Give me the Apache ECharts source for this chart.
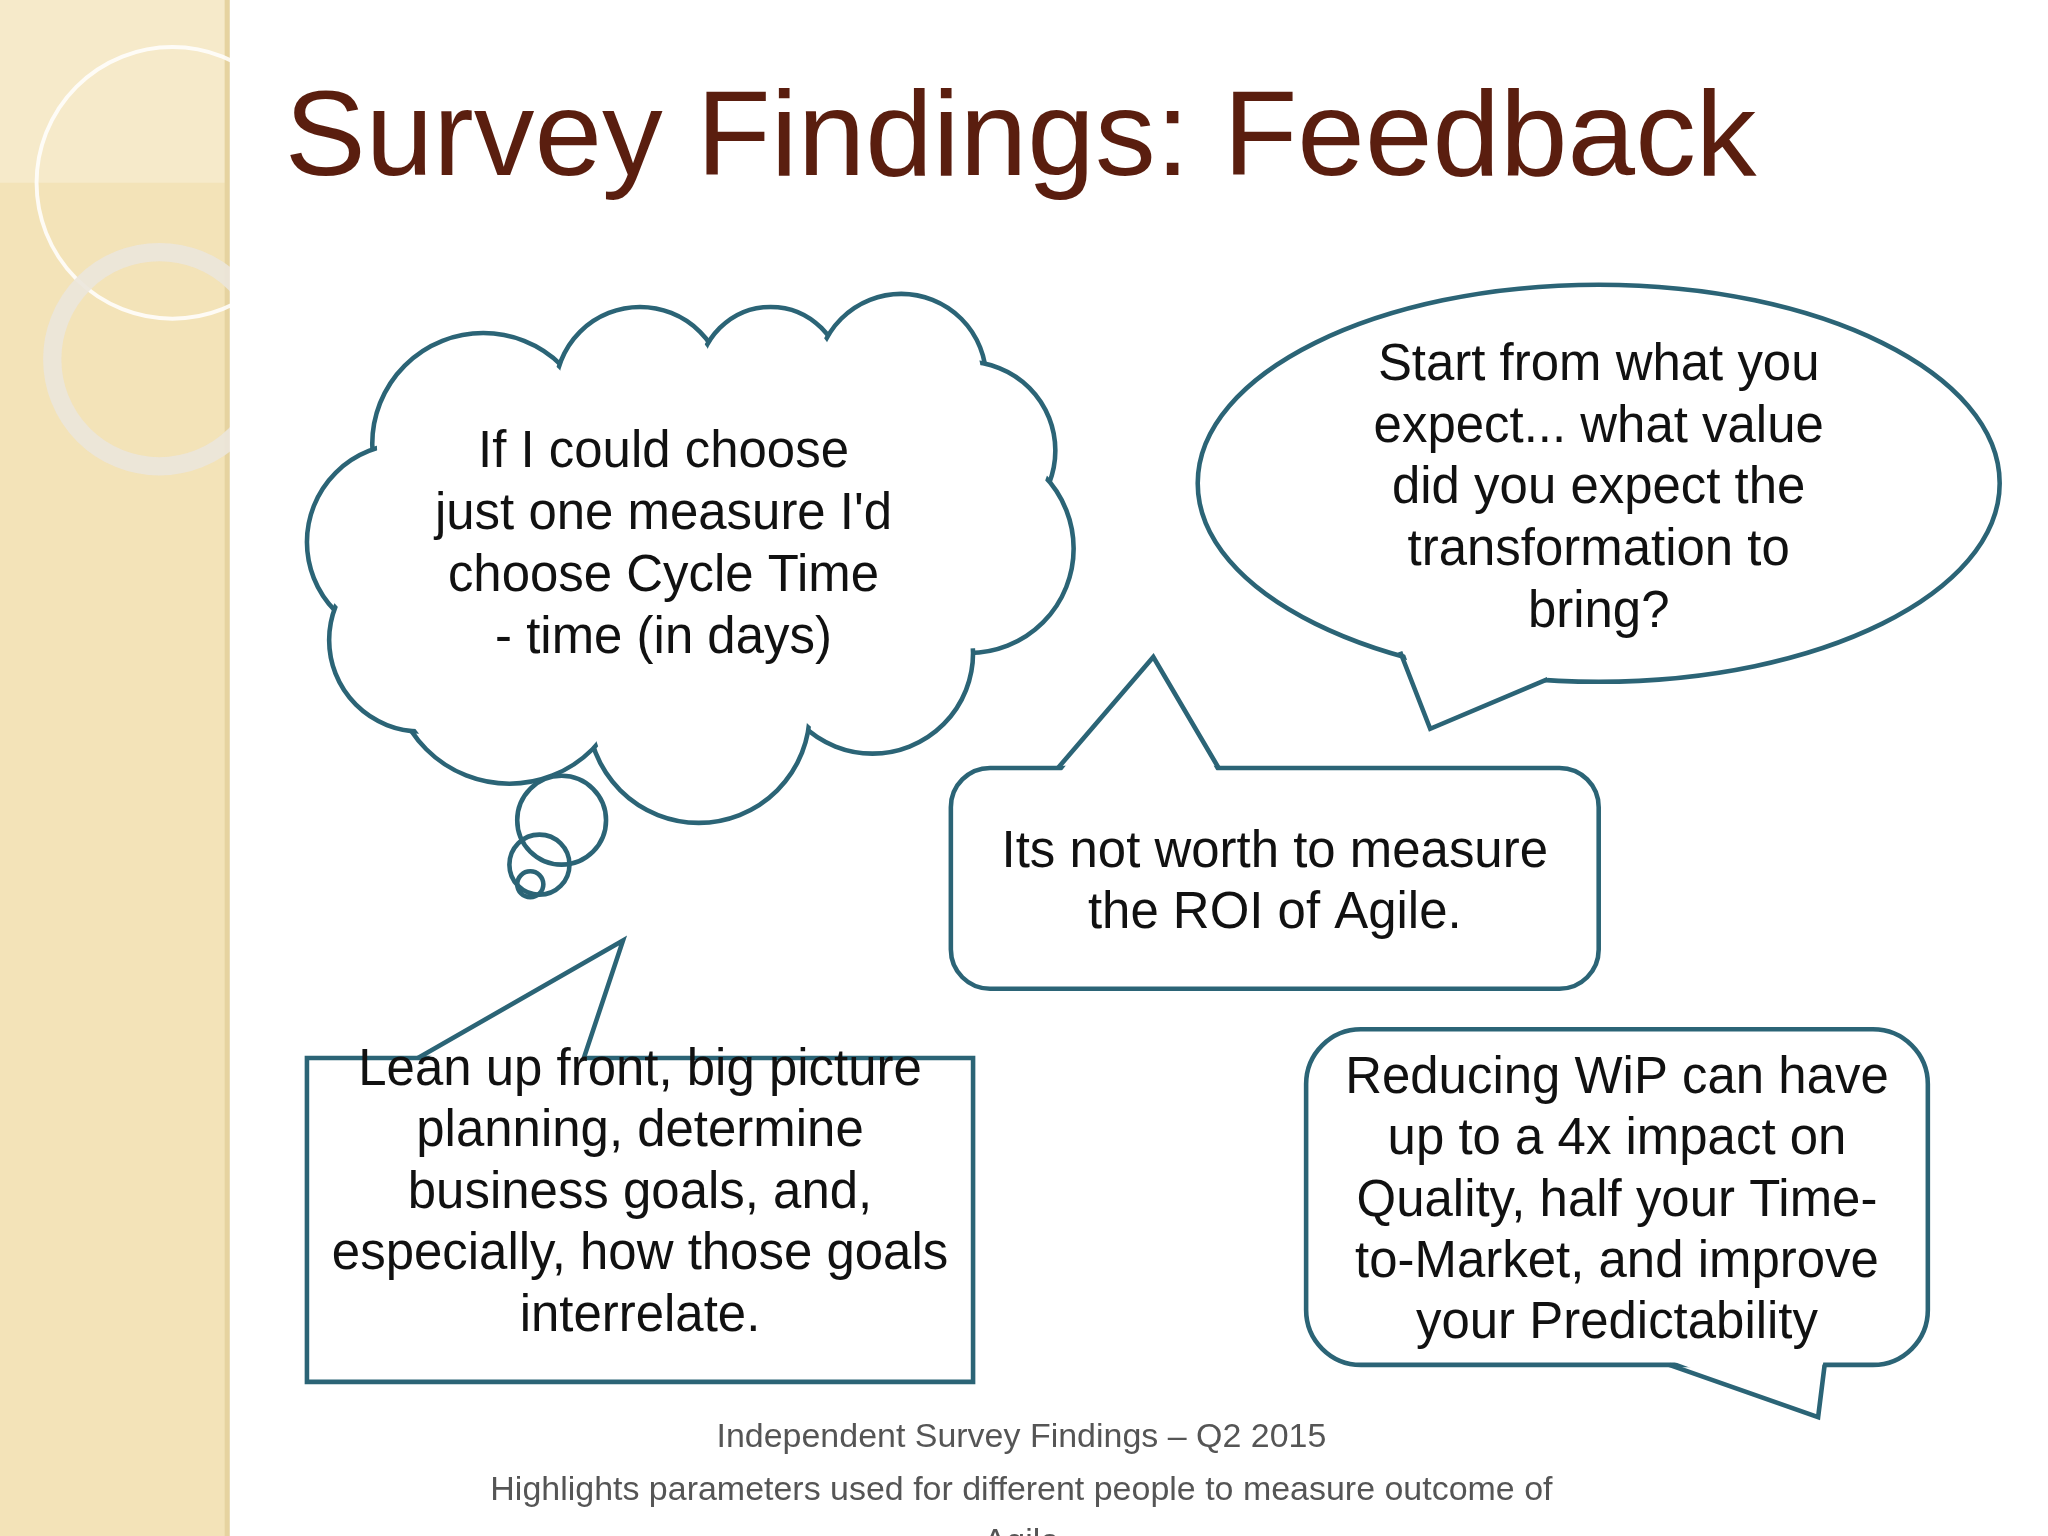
<!DOCTYPE html>
<html>
<head>
<meta charset="utf-8">
<script src="https://cdn.jsdelivr.net/npm/echarts@6/dist/echarts.min.js"></script>
<style>html,body{margin:0;padding:0;background:#fff}#slide{width:2048px;height:1536px}</style>
</head>
<body>
<div id="slide"></div>
<script>
// slide texts
var titleText = 'Survey Findings: Feedback';
var cloudLines = ['If I could choose', "just one measure I'd", 'choose Cycle Time', '- time (in days)'];
var ovalLines = ['Start from what you', 'expect... what value', 'did you expect the', 'transformation to', 'bring?'];
var roiLines = ['Its not worth to measure', 'the ROI of Agile.'];
var leanLines = ['Lean up front, big picture', 'planning, determine', 'business goals, and,', 'especially, how those goals', 'interrelate.'];
var wipLines = ['Reducing WiP can have', 'up to a 4x impact on', 'Quality, half your Time-', 'to-Market, and improve', 'your Predictability'];
var footerLines = ['Independent Survey Findings \u2013 Q2 2015', 'Highlights parameters used for different people to measure outcome of', 'Agile'];

var s = 2048 / 1568;
var stroke = '#2b6476';
var lw = 3.5;
var font = '39px "Liberation Sans", Arial, sans-serif';

function textBlock(lines, cx, y0, step, f, color) {
    return lines.map(function(t, i) {
        return {
            type: 'text',
            style: { text: t, x: cx, y: y0 + i * step, font: f || font, fill: color || '#111',
                textAlign: 'center', textVerticalAlign: 'middle' }
        };
    });
}

var bumps = [[370,340,85],[490,300,65],[590,290,55],[690,290,65],[740,345,68],[742,420,80],
    [668,500,77],[535,545,85],[390,510,90],[310,415,75],[322,490,70]];
var cloud = [];
bumps.forEach(function(b) {
    cloud.push({ type: 'circle', shape: { cx: b[0], cy: b[1], r: b[2] }, style: { fill: '#fff', stroke: stroke, lineWidth: lw } });
});
bumps.forEach(function(b) {
    cloud.push({ type: 'circle', shape: { cx: b[0], cy: b[1], r: b[2] - lw }, style: { fill: '#fff' } });
});
cloud.push({ type: 'circle', shape: { cx: 510, cy: 420, r: 150 }, style: { fill: '#fff' } });
cloud.push({ type: 'circle', shape: { cx: 650, cy: 400, r: 100 }, style: { fill: '#fff' } });
cloud.push({ type: 'circle', shape: { cx: 460, cy: 390, r: 100 }, style: { fill: '#fff' } });
[[430,628,34],[413,662,23],[406,677,10]].forEach(function(b) {
    cloud.push({ type: 'circle', shape: { cx: b[0], cy: b[1], r: b[2] }, style: { fill: 'none', stroke: stroke, lineWidth: lw } });
});

var children = [
    { type: 'rect', shape: { x: 0, y: 0, width: 175, height: 1176 }, style: { fill: '#f3e3b8' } },
    { type: 'rect', shape: { x: 0, y: 0, width: 175, height: 140 }, style: { fill: 'rgba(255,255,255,0.25)' } },
    { type: 'rect', shape: { x: 172, y: 0, width: 4, height: 1176 }, style: { fill: '#e6d3a0' } },
    { type: 'circle', shape: { cx: 132, cy: 140, r: 104 }, style: { fill: 'none', stroke: 'rgba(255,255,255,0.85)', lineWidth: 3 } },
    { type: 'circle', shape: { cx: 122, cy: 275, r: 82 }, style: { fill: 'none', stroke: 'rgba(235,230,220,0.9)', lineWidth: 14 } },
    { type: 'rect', shape: { x: 176, y: 0, width: 1400, height: 1176 }, style: { fill: '#fff' } },
    { type: 'text', style: { text: titleText, x: 218, y: 108, font: '93px "Liberation Sans", Arial, sans-serif',
        fill: '#5a1e0f', textVerticalAlign: 'middle', shadowBlur: 4, shadowColor: 'rgba(0,0,0,0.35)', shadowOffsetX: 3, shadowOffsetY: 3 } }
].concat(cloud).concat([
    { type: 'ellipse', shape: { cx: 1224, cy: 370, rx: 307, ry: 152 }, style: { fill: '#fff', stroke: stroke, lineWidth: lw } },
    { type: 'polygon', shape: { points: [[1074,496],[1095,556],[1185,519],[1185,505]] }, style: { fill: '#fff' } },
    { type: 'polyline', shape: { points: [[1072,499],[1095,558],[1185,520]] }, style: { stroke: stroke, lineWidth: lw, fill: 'none' } },
    { type: 'rect', shape: { x: 728, y: 588, width: 496, height: 169, r: 30 }, style: { fill: '#fff', stroke: stroke, lineWidth: lw } },
    { type: 'polygon', shape: { points: [[812,591],[883,505],[932,591]] }, style: { fill: '#fff' } },
    { type: 'polyline', shape: { points: [[810,588],[883,503],[933,588]] }, style: { stroke: stroke, lineWidth: lw, fill: 'none' } },
    { type: 'rect', shape: { x: 235, y: 810, width: 510, height: 248 }, style: { fill: '#fff', stroke: stroke, lineWidth: lw } },
    { type: 'polygon', shape: { points: [[322,813],[477,720],[446,813]] }, style: { fill: '#fff' } },
    { type: 'polyline', shape: { points: [[320,810],[477,720],[447,810]] }, style: { stroke: stroke, lineWidth: lw, fill: 'none' } },
    { type: 'rect', shape: { x: 1000, y: 788, width: 476, height: 257, r: 42 }, style: { fill: '#fff', stroke: stroke, lineWidth: lw } },
    { type: 'polygon', shape: { points: [[1280,1042],[1391,1083],[1396,1042]] }, style: { fill: '#fff' } },
    { type: 'polyline', shape: { points: [[1278,1045],[1392,1085],[1397,1045]] }, style: { stroke: stroke, lineWidth: lw, fill: 'none' } }
])
.concat(textBlock(cloudLines, 508, 347, 47.5))
.concat(textBlock(ovalLines, 1224, 280, 47.3))
.concat(textBlock(roiLines, 976, 653, 47))
.concat(textBlock(leanLines, 490, 820, 47))
.concat(textBlock(wipLines, 1238, 826, 47))
.concat(textBlock(footerLines, 782, 1101, 40, '26px "Liberation Sans", Arial, sans-serif', '#555'));

var myChart = echarts.init(document.getElementById('slide'));
myChart.setOption({
    animation: false,
    graphic: [{ type: 'group', scaleX: s, scaleY: s, children: children }]
});
</script>
</body>
</html>
